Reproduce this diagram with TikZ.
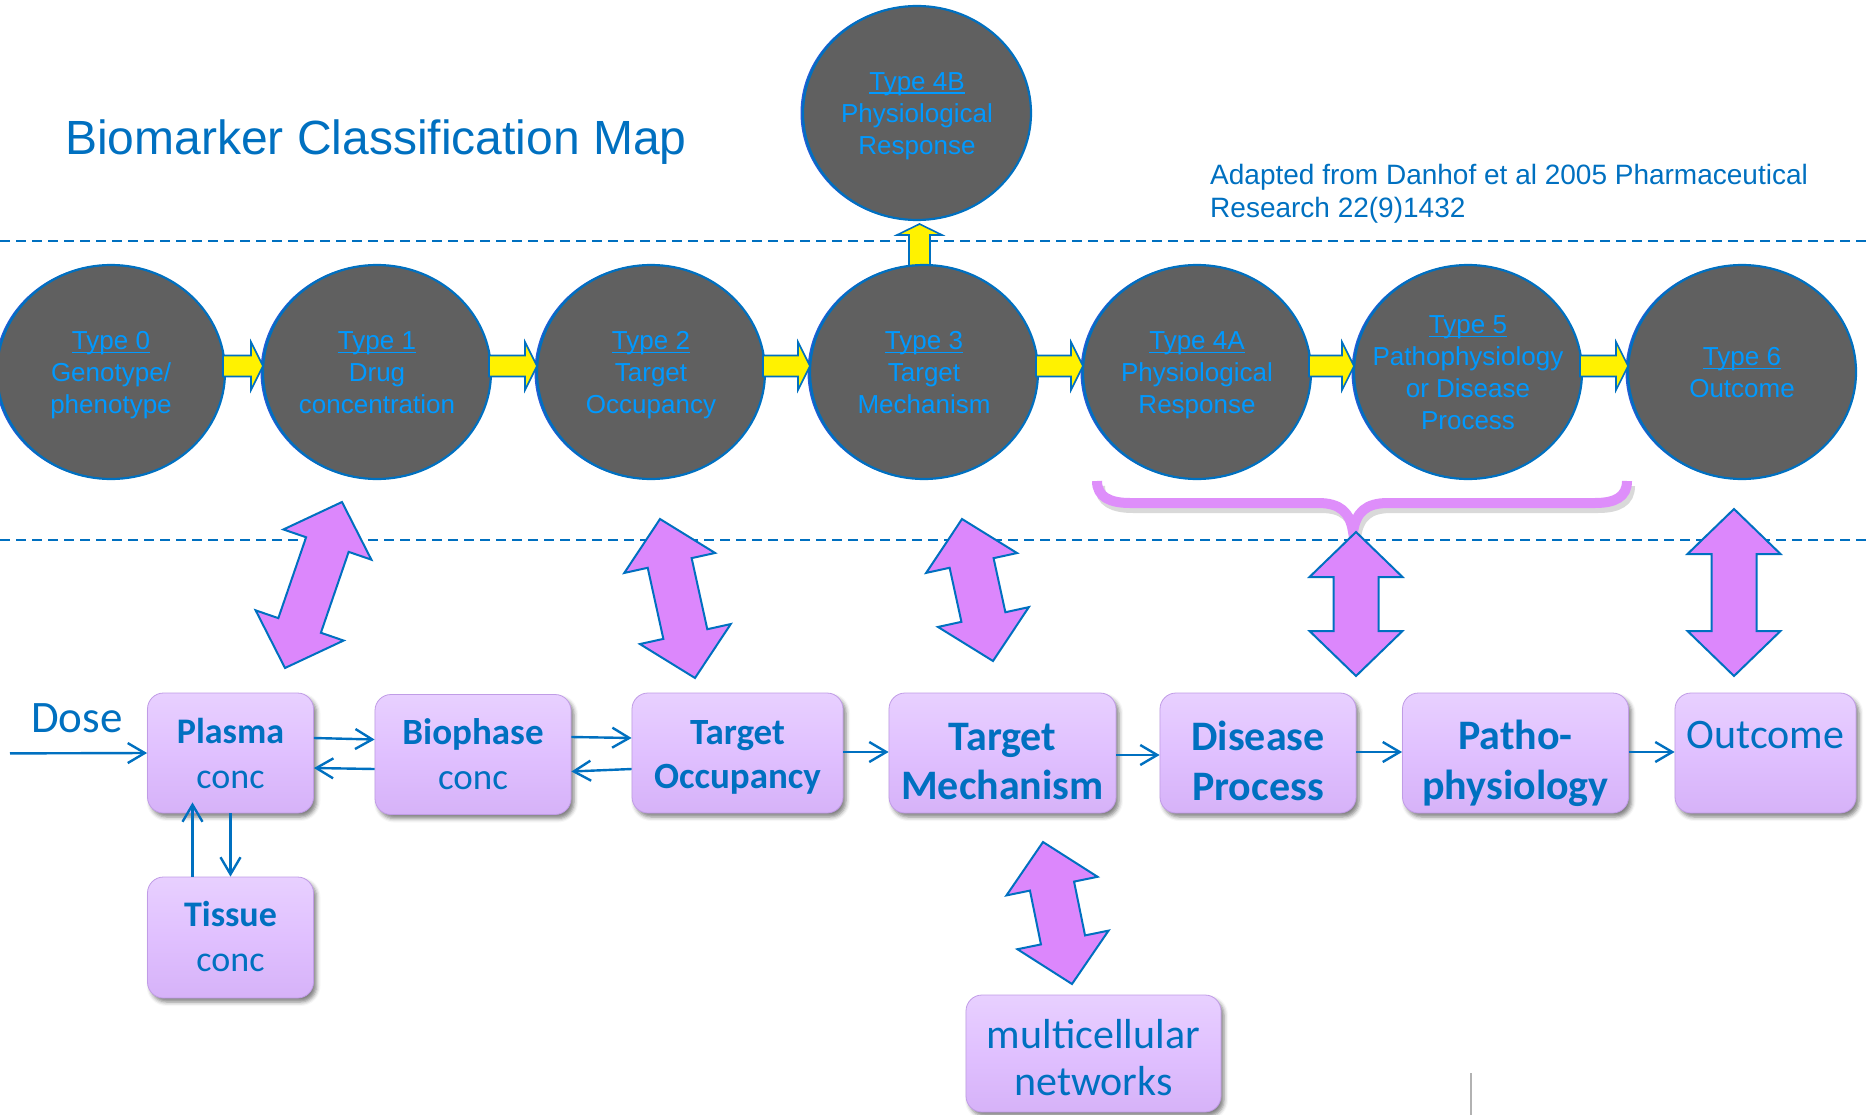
\documentclass[tikz,border=0pt]{standalone}
\usepackage{fontspec}
\setmainfont{Liberation Sans}
\newfontfamily\calfont{Carlito}
\usetikzlibrary{shapes.geometric,arrows.meta,calc,shadows.blur}

\definecolor{deepblue}{RGB}{0,112,192}
\definecolor{skyblue}{RGB}{0,153,255}
\definecolor{discgray}{RGB}{96,96,96}
\definecolor{discrim}{RGB}{40,90,215}
\definecolor{pinkviolet}{RGB}{220,135,252}
\definecolor{bracecol}{RGB}{222,142,250}
\definecolor{boxtop}{RGB}{232,208,255}
\definecolor{boxmid}{RGB}{224,192,255}
\definecolor{boxbot}{RGB}{214,178,248}
\definecolor{boxedge}{RGB}{192,156,230}

% underlined heading inside a disc
\newcommand\typeul[1]{\setbox0\hbox{#1}\rlap{\rule[-3.5pt]{\wd0}{1.4pt}}\box0}

% double-headed block arrow between two tip points
\newcommand\bigdbl[4]{%
  \pgfmathsetmacro\dbllen{veclen(#3-#1,#4-#2)}%
  \pgfmathsetmacro\dblang{atan2(#2-#4,#3-#1)}%
  \begin{scope}[shift={(#1,#2)}, rotate=\dblang]
    \draw[pinkarrow] (0,0) -- (45,46.5) -- (45,22.5) -- (\dbllen-45,22.5)
      -- (\dbllen-45,46.5) -- (\dbllen,0) -- (\dbllen-45,-46.5)
      -- (\dbllen-45,-22.5) -- (45,-22.5) -- (45,-46.5) -- cycle;
  \end{scope}}

% small yellow arrow between neighbouring discs
\newcommand\yarrow[2]{%
  \draw[yarrowstyle] (#1,355.5) -- (#2-12,355.5) -- (#2-12,342) -- (#2,366)
    -- (#2-12,390) -- (#2-12,376.5) -- (#1,376.5) -- cycle;}

\begin{document}
\begin{tikzpicture}[x=1pt, y=-1pt,
  disc/.style={ellipse, draw=deepblue, line width=2.2pt, fill=discgray,
    minimum width=228pt, minimum height=214pt, inner sep=0pt},
  discshade/.style={ellipse, fill=discrim, minimum width=228pt,
    minimum height=214pt, inner sep=0pt},
  disctext/.style={text=skyblue, align=center, inner sep=0pt,
    font=\fontsize{26}{32}\selectfont},
  procbox/.style={draw=boxedge, line width=0.8pt, rounded corners=16pt,
    top color=boxtop, bottom color=boxbot, middle color=boxmid, inner sep=0pt,
    blur shadow={shadow xshift=3pt, shadow yshift=-4pt, shadow opacity=50,
      shadow blur radius=4pt}},
  boxtext/.style={text=deepblue, align=center, inner sep=0pt},
  link/.style={draw=deepblue, line width=2.4pt,
    -{Straight Barb[length=17pt,width=20pt]}},
  yarrowstyle/.style={fill=yellow, draw=deepblue, line width=1.6pt, line join=miter},
  pinkarrow/.style={fill=pinkviolet, draw=deepblue, line width=2pt, line join=miter},
  guide/.style={draw=deepblue, line width=2.4pt, dash pattern=on 10pt off 6pt},
  plaintext/.style={text=deepblue, inner sep=0pt}
]
\useasboundingbox (0,0) rectangle (1870,1115);

% heading and source note
\node[plaintext, anchor=base west, font=\fontsize{48}{57}\selectfont] (title)
  at (65,155) {Biomarker Classification Map};
\node[plaintext, anchor=base west, font=\fontsize{28}{33}\selectfont] (source1)
  at (1210,185) {Adapted from Danhof et al 2005 Pharmaceutical};
\node[plaintext, anchor=base west, font=\fontsize{28}{33}\selectfont] (source2)
  at (1210,218) {Research 22(9)1432};

% dashed separators
\coordinate (topL) at (0,241);   \coordinate (topR) at (1870,241);
\coordinate (botL) at (0,540);   \coordinate (botR) at (1870,540);
\draw[guide] (topL) -- (topR);
\draw[guide] (botL) -- (botR);

% upward arrow from Type 3 to Type 4B
\draw[yarrowstyle] (909,278) -- (909,235) -- (897,235) -- (919.5,224)
  -- (942,235) -- (930,235) -- (930,278) -- cycle;

% biomarker discs
\foreach \n/\cx in {0/111, 1/377, 2/651, 3/924, 4a/1197, 5/1468, 6/1742}{
  \node[discshade] at (\cx-2.5,372) {};
  \node[disc] (type\n) at (\cx,372) {};
}
\node[discshade] at (914.5,113) {};
\node[disc] (type4b) at (917,113) {};

\node[disctext] (type0txt) at ($(type0)+(0,3)$)
  {\strut\typeul{Type 0}\\\strut Genotype/\\\strut phenotype};
\node[disctext] (type1txt) at ($(type1)+(0,3)$)
  {\strut\typeul{Type 1}\\\strut Drug\\\strut concentration};
\node[disctext] (type2txt) at ($(type2)+(0,3)$)
  {\strut\typeul{Type 2}\\\strut Target\\\strut Occupancy};
\node[disctext] (type3txt) at ($(type3)+(0,3)$)
  {\strut\typeul{Type 3}\\\strut Target\\\strut Mechanism};
\node[disctext] (type4atxt) at ($(type4a)+(0,3)$)
  {\strut\typeul{Type 4A}\\\strut Physiological\\\strut Response};
\node[disctext] (type5txt) at ($(type5)+(0,3)$)
  {\strut\typeul{Type 5}\\\strut Pathophysiology\\\strut or Disease\\\strut Process};
\node[disctext] (type6txt) at ($(type6)+(0,3)$)
  {\strut\typeul{Type 6}\\\strut Outcome};
\node[disctext] (type4btxt) at ($(type4b)+(0,3)$)
  {\strut\typeul{Type 4B}\\\strut Physiological\\\strut Response};

% yellow arrows along the disc row
\yarrow{223}{263}
\yarrow{489}{537}
\yarrow{763}{810}
\yarrow{1036}{1083}
\yarrow{1309}{1354}
\yarrow{1580}{1628}

% brace grouping Type 4A and Type 5
\draw[gray, opacity=0.3, line width=10pt]
  (1100,486) .. controls (1100,502) and (1113,508) .. (1133,508) -- (1321,508)
  .. controls (1343,508) and (1353,517) .. (1356,537)
  .. controls (1359,517) and (1369,508) .. (1391,508) -- (1598,508)
  .. controls (1618,508) and (1630,502) .. (1630,486);
\draw[bracecol, line width=10pt]
  (1097,481) .. controls (1097,497) and (1110,503) .. (1130,503) -- (1318,503)
  .. controls (1340,503) and (1350,512) .. (1353,532)
  .. controls (1356,512) and (1366,503) .. (1388,503) -- (1595,503)
  .. controls (1615,503) and (1627,497) .. (1627,481);

% double-headed links between the disc row and the process chain
\bigdbl{285}{668}{342}{502}
\bigdbl{695}{678}{660}{519}
\bigdbl{993}{661}{962}{519}
\bigdbl{1356}{676}{1356}{532}
\bigdbl{1734}{676}{1734}{509}
\bigdbl{1072}{984}{1043}{842}

% process chain
\node[procbox, minimum width=166pt, minimum height=120pt] (plasma) at (230.5,753) {};
\node[procbox, minimum width=196pt, minimum height=120pt] (biophase) at (473,754.5) {};
\node[procbox, minimum width=166pt, minimum height=121pt] (tissue) at (230.5,937.5) {};
\node[procbox, minimum width=211pt, minimum height=120pt] (occupancy) at (737.5,753) {};
\node[procbox, minimum width=227pt, minimum height=120pt] (mechanism) at (1002.5,753) {};
\node[procbox, minimum width=196pt, minimum height=120pt] (disease) at (1258,753) {};
\node[procbox, minimum width=226pt, minimum height=120pt] (patho) at (1515.5,753) {};
\node[procbox, minimum width=181pt, minimum height=120pt] (outcome) at (1765.5,753) {};
\node[procbox, minimum width=255pt, minimum height=117pt] (network) at (1093.5,1053.5) {};

\node[boxtext, font=\calfont\fontsize{36}{45}\selectfont] (plasmatxt) at (230.5,756.5)
  {\strut{\bfseries Plasma}\\\strut conc};
\node[boxtext, font=\calfont\fontsize{37}{44.3}\selectfont] (biophasetxt) at (473,758)
  {\strut{\bfseries Biophase}\\\strut conc};
\node[boxtext, font=\calfont\fontsize{36}{45}\selectfont] (tissuetxt) at (230.5,939.5)
  {\strut{\bfseries Tissue}\\\strut conc};
\node[boxtext, font=\calfont\bfseries\fontsize{37}{44}\selectfont] (occupancytxt) at (737.5,758)
  {\strut Target\\\strut Occupancy};
\node[boxtext, font=\calfont\bfseries\fontsize{42}{49}\selectfont] (mechanismtxt) at (1002.5,765)
  {\strut Target\\\strut Mechanism};
\node[boxtext, font=\calfont\bfseries\fontsize{42}{50}\selectfont] (diseasetxt) at (1258,765)
  {\strut Disease\\\strut Process};
\node[boxtext, font=\calfont\bfseries\fontsize{42}{50}\selectfont] (pathotxt) at (1515.5,764)
  {\strut Patho-\\\strut physiology};
\node[boxtext, anchor=base, font=\calfont\fontsize{42}{50}\selectfont] (outcometxt) at (1765.5,748)
  {Outcome};
\node[boxtext, font=\calfont\fontsize{42}{47}\selectfont] (networktxt) at (1093.5,1063)
  {\strut multicellular\\\strut networks};

% dose input
\node[plaintext, anchor=base west, font=\calfont\fontsize{45}{54}\selectfont] (dose)
  at (31,732) {Dose};
\coordinate (dosein) at (10,753.4);
\draw[link] (dosein) -- (plasma.west);

% connectors of the chain
\draw[link] ($(plasma.east)+(0,-15)$) -- ($(biophase.west)+(0,-15)$);
\draw[link] ($(biophase.west)+(0,14.5)$) -- ($(plasma.east)+(0,15)$);
\draw[link] ($(biophase.east)+(0,-17.5)$) -- ($(occupancy.west)+(0,-15)$);
\draw[link] ($(occupancy.west)+(0,16)$) -- ($(biophase.east)+(0,17)$);
\draw[link] ($(occupancy.east)+(0,-1)$) -- ($(mechanism.west)+(0,-1)$);
\draw[link] ($(mechanism.east)+(0,2)$) -- ($(disease.west)+(0,2)$);
\draw[link] ($(disease.east)+(0,-1)$) -- ($(patho.west)+(0,-1)$);
\draw[link] ($(patho.east)+(0,-1)$) -- ($(outcome.west)+(0,-1)$);
\draw[link] (plasma.south) -- (tissue.north);
\draw[link] ($(tissue.north)+(-38,0)$) -- ($(plasma.south)+(-38,-11)$);

% thin grey mark at the lower edge
\draw[gray!60, line width=2pt] (1471,1073) -- (1471,1115);
\end{tikzpicture}
\end{document}
